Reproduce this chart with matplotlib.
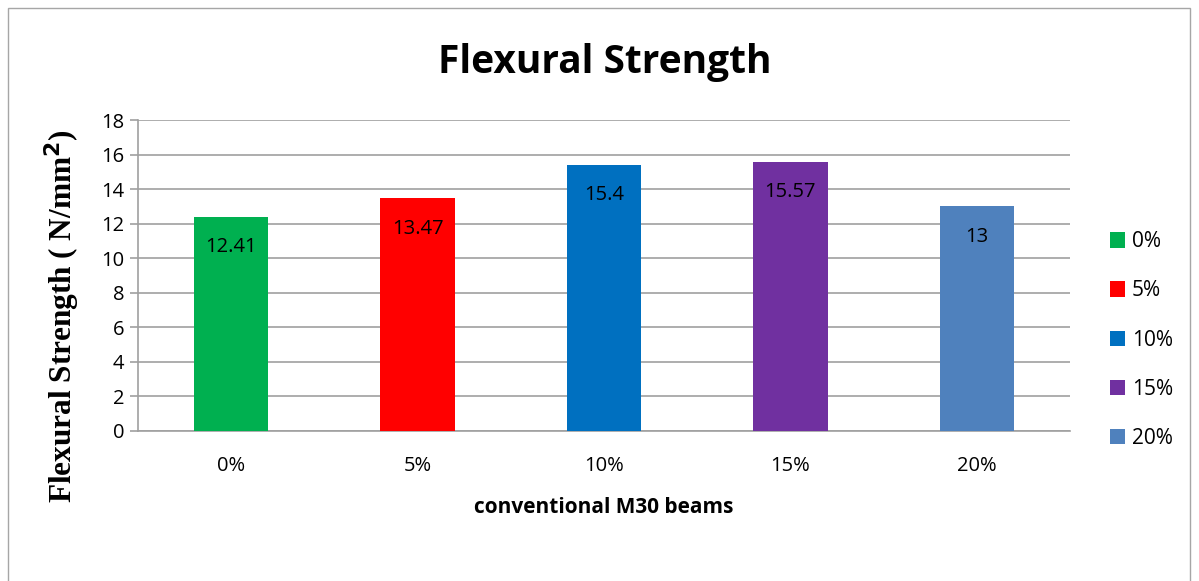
import matplotlib.pyplot as plt
from matplotlib.patches import Patch, Rectangle

categories = ['0%', '5%', '10%', '15%', '20%']
values = [12.41, 13.47, 15.4, 15.57, 13]
labels = ['12.41', '13.47', '15.4', '15.57', '13']
colors = ['#00b050', '#ff0000', '#0070c0', '#7030a0', '#4f81bd']

W, H = 1199, 581
fig = plt.figure(figsize=(W / 100, H / 100), dpi=100)
ax = fig.add_axes([138 / W, 1 - 431 / H, (1070 - 138) / W, (431 - 120) / H])

# outer chart border
fig.patches.append(Rectangle((8 / W, -0.05), (1190 - 8) / W, 1 - 8 / H + 0.05,
                             transform=fig.transFigure, fill=False,
                             edgecolor='#a6a6a6', linewidth=1))

x = range(len(categories))
ax.bar(x, values, width=0.4, color=colors, zorder=3)
for i, (v, lab) in enumerate(zip(values, labels)):
    ax.text(i, v - 1.75, lab, ha='center', va='center', fontsize=14.5,
            family='Open Sans', zorder=4)

ax.set_xlim(-0.5, 4.5)
ax.set_ylim(0, 18)
ax.set_yticks(range(0, 19, 2))
ax.set_xticks(list(x))
ax.set_xticklabels(categories)
ax.yaxis.grid(True, color='#a0a0a0', linewidth=1.2, zorder=0)
for s in ['top', 'right']:
    ax.spines[s].set_visible(False)
for s in ['left', 'bottom']:
    ax.spines[s].set_color('#a0a0a0')
    ax.spines[s].set_linewidth(1.2)
ax.tick_params(axis='y', colors='#a0a0a0', labelcolor='black', length=6,
               width=1.2, labelsize=14.5, pad=4)
ax.tick_params(axis='x', length=0, labelsize=14.5, pad=18)
for t in ax.get_xticklabels() + ax.get_yticklabels():
    t.set_family('Open Sans')

ax.set_xlabel('conventional M30 beams', fontsize=15, fontweight='bold',
              family='Open Sans', labelpad=15)
ax.set_ylabel('Flexural Strength ( N/mm$^\\mathbf{2}$)', fontsize=22.5,
              fontweight='bold', family='Liberation Serif')
ax.yaxis.set_label_coords((82 - 138) / (1070 - 138), (431 - 316) / (431 - 120))
fig.text(605 / W, 1 - 62 / H, 'Flexural Strength', ha='center', va='center',
         fontsize=28, fontweight='bold', family='Open Sans')

handles = [Patch(facecolor=c, label=k) for c, k in zip(colors, categories)]
fig.legend(handles=handles, loc='center left', bbox_to_anchor=(1091 / W, 1 - 340 / H),
           frameon=False, handlelength=0.75, handleheight=0.75,
           handletextpad=0.3, labelspacing=1.35, prop={'family': 'Open Sans', 'size': 15})

fig.savefig('out.png', dpi=100)
